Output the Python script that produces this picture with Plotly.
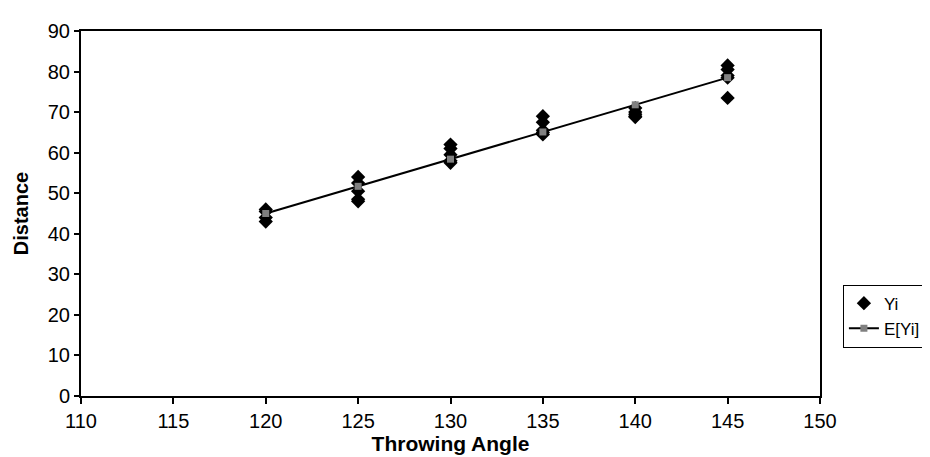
import plotly.graph_objects as go

angles = [120, 125, 130, 135, 140, 145]
yi_120 = [43.0, 44.0, 45.5, 46.0]
yi_125 = [54.0, 52.5, 50.5, 48.5, 48.0]
yi_130 = [62.0, 61.0, 59.5, 58.0, 57.5]
yi_135 = [69.0, 67.5, 65.5, 65.0, 64.5]
yi_140 = [71.0, 70.0, 69.5, 69.0, 68.8]
yi_145 = [81.5, 80.5, 79.0, 78.5, 73.5]
expected = [45.0, 51.7, 58.4, 65.1, 71.8, 78.5]

groups = [yi_120, yi_125, yi_130, yi_135, yi_140, yi_145]
xs, ys = [], []
for a, g in zip(angles, groups):
    xs += [a] * len(g)
    ys += g

font = "Liberation Sans, Arial, sans-serif"
fig = go.Figure()
fig.add_trace(go.Scatter(x=xs, y=ys, mode="markers", name="Yi",
                         marker=dict(symbol="diamond", size=11, color="black")))
fig.add_trace(go.Scatter(x=angles, y=expected, mode="lines+markers", name="E[Yi]",
                         line=dict(color="black", width=2),
                         marker=dict(symbol="square", size=7, color="#808080")))

fig.update_layout(
    width=930, height=457,
    margin=dict(l=71, r=115, t=15, b=69),
    paper_bgcolor="white", plot_bgcolor="white",
    font=dict(family=font, size=20, color="black"),
    showlegend=True,
    legend=dict(x=1.031, y=0.305, xanchor="left", yanchor="top",
                bordercolor="black", borderwidth=1, bgcolor="white",
                font=dict(size=17), tracegroupgap=0, itemwidth=30),
    xaxis=dict(range=[110, 150], dtick=5, showgrid=False, zeroline=False,
               showline=True, linecolor="black", linewidth=2, mirror=True,
               ticks="outside", ticklen=6, tickcolor="black", tickwidth=1.5,
               title=dict(text="<b>Throwing Angle</b>", font=dict(size=21), standoff=2)),
    yaxis=dict(range=[0, 90], dtick=10, showgrid=False, zeroline=False,
               showline=True, linecolor="black", linewidth=2, mirror=True,
               ticks="outside", ticklen=5, tickcolor="black", tickwidth=1.5,
               title=dict(text="<b>Distance</b>", font=dict(size=20), standoff=14)),
)
fig.write_html("out.html")
